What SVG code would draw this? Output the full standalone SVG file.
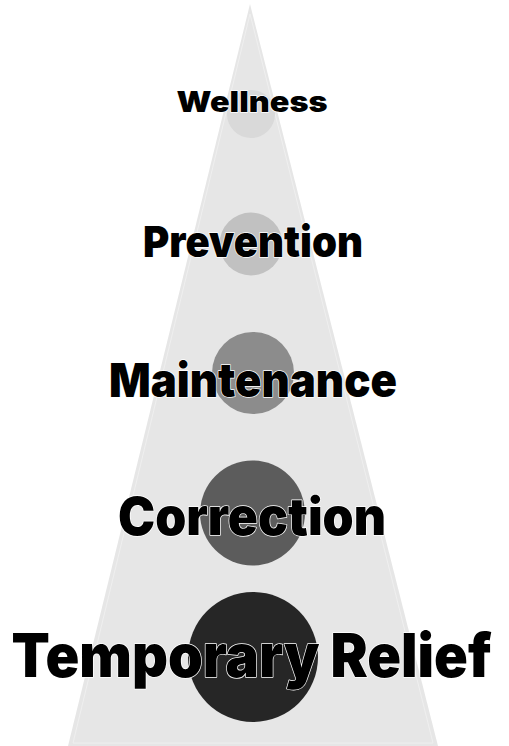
<svg xmlns="http://www.w3.org/2000/svg" width="509" height="746" viewBox="0 0 509 746">
  <style>
    .lbl { font-family: "Inter", "Liberation Sans", sans-serif; font-weight: 900; fill: #000; stroke: #fff; stroke-width: 1.4; paint-order: stroke; stroke-linejoin: round; text-anchor: middle; font-variant-ligatures: none; }
  </style>
  <rect width="509" height="746" fill="#ffffff"/>
  <g id="pyramid">
    <polygon points="250,4 438,746 68,746" fill="#e6e6e6"/>
    <polygon points="250,14 433,743 73,743" fill="none" stroke="#efefef" stroke-width="1"/>
  </g>
  <g id="wellness">
    <circle cx="251" cy="114" r="24" fill="#d9d9d9"/>
    <text class="lbl" x="252" y="112" font-size="29" textLength="151" lengthAdjust="spacingAndGlyphs">Wellness</text>
  </g>
  <g id="prevention">
    <circle cx="251" cy="244" r="31.5" fill="#c1c1c1"/>
    <text class="lbl" x="253" y="257" font-size="43" textLength="220" lengthAdjust="spacingAndGlyphs">Prevention</text>
  </g>
  <g id="maintenance">
    <circle cx="253" cy="373" r="41" fill="#8c8c8c"/>
    <text class="lbl" x="253" y="397" font-size="47" textLength="288" lengthAdjust="spacingAndGlyphs">Maintenance</text>
  </g>
  <g id="correction">
    <circle cx="252.5" cy="513" r="52.5" fill="#5c5c5c"/>
    <text class="lbl" x="252" y="535" font-size="52" textLength="268" lengthAdjust="spacingAndGlyphs">Correction</text>
  </g>
  <g id="temporary-relief">
    <circle cx="253" cy="657" r="65" fill="#262626"/>
    <text class="lbl" x="251.5" y="677" font-size="60" textLength="480" lengthAdjust="spacingAndGlyphs">Temporary Relief</text>
  </g>
</svg>
